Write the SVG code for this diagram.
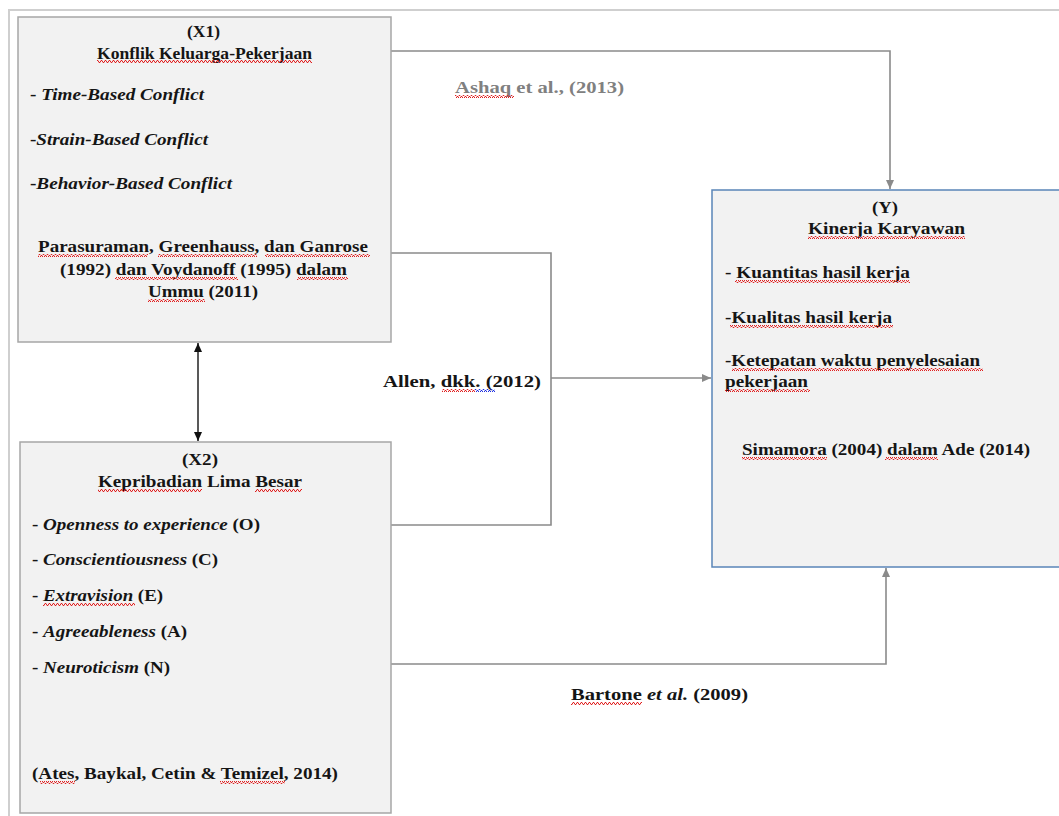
<svg xmlns="http://www.w3.org/2000/svg" width="1059" height="816" viewBox="0 0 1059 816">
<style>
.t{font-family:"Liberation Serif","Times New Roman",serif;font-size:17.5px;font-weight:bold;fill:#151515}
.i{font-style:italic}
.g{fill:#808080}
.box{fill:#f2f2f2;stroke:#a6a6a6;stroke-width:1.5}
.yb{fill:#f2f2f2;stroke:#5a85b8;stroke-width:1.5}
.c{fill:none;stroke:#8a8a8a;stroke-width:1.6}
.w{fill:url(#wv)}
.wb{fill:url(#wvb)}
</style>
<defs>
<pattern id="wv" width="4" height="3" patternUnits="userSpaceOnUse">
<path d="M0,2.5 L1,0.5 L2,0.5 L3,2.5 L4,2.5" fill="none" stroke="#e02020" stroke-width="1"/>
</pattern>
<pattern id="wvb" width="4" height="3" patternUnits="userSpaceOnUse">
<path d="M0,2.5 L1,0.5 L2,0.5 L3,2.5 L4,2.5" fill="none" stroke="#2030e0" stroke-width="1"/>
</pattern>
<marker id="ag" markerWidth="10" markerHeight="10" refX="9" refY="5" orient="auto" markerUnits="userSpaceOnUse">
<path d="M0,1 L9,5 L0,9 Z" fill="#8a8a8a"/>
</marker>
<marker id="ab" markerWidth="10" markerHeight="10" refX="9" refY="5" orient="auto-start-reverse" markerUnits="userSpaceOnUse">
<path d="M0,1 L9,5 L0,9 Z" fill="#111"/>
</marker>
</defs>
<rect width="1059" height="816" fill="#fff"/>
<path d="M9,816 V10 H1059" fill="none" stroke="#cfcfcf" stroke-width="2"/>

<g id="connectors">
<path class="c" d="M391,51 H890 V189" marker-end="url(#ag)"/>
<path class="c" d="M391,253 H551 V525 H391"/>
<path class="c" d="M551,378 H711" marker-end="url(#ag)"/>
<path class="c" d="M391,664 H886 V568" marker-end="url(#ag)"/>
<path d="M198,343 V441" fill="none" stroke="#222" stroke-width="1.5" marker-start="url(#ab)" marker-end="url(#ab)"/>
</g>

<g id="X1">
<rect class="box" x="18" y="17" width="373" height="325"/>
<text class="t" x="187" y="37" textLength="33" lengthAdjust="spacingAndGlyphs">(X1)</text>
<text class="t" x="97" y="59" textLength="215" lengthAdjust="spacingAndGlyphs">Konflik Keluarga-Pekerjaan</text>
<text class="t" x="30" y="100" textLength="174" lengthAdjust="spacingAndGlyphs">- <tspan class="i">Time-Based Conflict</tspan></text>
<text class="t" x="30" y="145" textLength="178" lengthAdjust="spacingAndGlyphs">-<tspan class="i">Strain-Based Conflict</tspan></text>
<text class="t" x="30" y="189" textLength="202" lengthAdjust="spacingAndGlyphs">-<tspan class="i">Behavior-Based Conflict</tspan></text>
<text class="t" x="38" y="252" textLength="330" lengthAdjust="spacingAndGlyphs">Parasuraman, Greenhauss, dan Ganrose</text>
<text class="t" x="60" y="275" textLength="287" lengthAdjust="spacingAndGlyphs">(1992) dan Voydanoff (1995) dalam</text>
<text class="t" x="148" y="297" textLength="110" lengthAdjust="spacingAndGlyphs">Ummu (2011)</text>
<rect class="w" x="97" y="60" width="215" height="3"/>
<rect class="w" x="38" y="254" width="110" height="3"/>
<rect class="w" x="158" y="254" width="99" height="3"/>
<rect class="w" x="265" y="254" width="105" height="3"/>
<rect class="w" x="115" y="277" width="123" height="3"/>
<rect class="w" x="297" y="277" width="51" height="3"/>
<rect class="w" x="148" y="299" width="57" height="3"/>
</g>

<g id="X2">
<rect class="box" x="20" y="442" width="371" height="371"/>
<text class="t" x="182" y="465" textLength="36" lengthAdjust="spacingAndGlyphs">(X2)</text>
<text class="t" x="98" y="487" textLength="204" lengthAdjust="spacingAndGlyphs">Kepribadian Lima Besar</text>
<text class="t" x="32" y="530" textLength="228" lengthAdjust="spacingAndGlyphs">- <tspan class="i">Openness to experience</tspan> (O)</text>
<text class="t" x="32" y="565" textLength="186" lengthAdjust="spacingAndGlyphs">- <tspan class="i">Conscientiousness</tspan> (C)</text>
<text class="t" x="32" y="601" textLength="131" lengthAdjust="spacingAndGlyphs">- <tspan class="i">Extravision</tspan> (E)</text>
<text class="t" x="32" y="637" textLength="155" lengthAdjust="spacingAndGlyphs">- <tspan class="i">Agreeableness</tspan> (A)</text>
<text class="t" x="32" y="673" textLength="138" lengthAdjust="spacingAndGlyphs">- <tspan class="i">Neuroticism</tspan> (N)</text>
<text class="t" x="32" y="779" textLength="306" lengthAdjust="spacingAndGlyphs">(Ates, Baykal, Cetin &amp; Temizel, 2014)</text>
<rect class="w" x="98" y="489" width="104" height="3"/>
<rect class="w" x="255" y="489" width="47" height="3"/>
<rect class="w" x="43" y="603" width="92" height="3"/>
<rect class="w" x="40" y="781" width="35" height="3"/>
<rect class="w" x="220" y="781" width="65" height="3"/>
</g>

<g id="Y">
<rect class="yb" x="712" y="190" width="352" height="377"/>
<text class="t" x="872" y="213" textLength="26" lengthAdjust="spacingAndGlyphs">(Y)</text>
<text class="t" x="808" y="234" textLength="157" lengthAdjust="spacingAndGlyphs">Kinerja Karyawan</text>
<text class="t" x="725" y="278" textLength="185" lengthAdjust="spacingAndGlyphs">- Kuantitas hasil kerja</text>
<text class="t" x="725" y="323" textLength="167" lengthAdjust="spacingAndGlyphs">-Kualitas hasil kerja</text>
<text class="t" x="725" y="366" textLength="255" lengthAdjust="spacingAndGlyphs">-Ketepatan waktu penyelesaian</text>
<text class="t" x="725" y="387" textLength="83" lengthAdjust="spacingAndGlyphs">pekerjaan</text>
<text class="t" x="742" y="455" textLength="288" lengthAdjust="spacingAndGlyphs">Simamora (2004) dalam Ade (2014)</text>
<rect class="w" x="808" y="236" width="157" height="3"/>
<rect class="w" x="735" y="280" width="175" height="3"/>
<rect class="w" x="730" y="325" width="163" height="3"/>
<rect class="w" x="732" y="368" width="251" height="3"/>
<rect class="w" x="725" y="389" width="85" height="3"/>
<rect class="w" x="742" y="457" width="85" height="3"/>
<rect class="w" x="885" y="457" width="53" height="3"/>
</g>

<g id="labels">
<text class="t g" x="455" y="93" textLength="169" lengthAdjust="spacingAndGlyphs">Ashaq et al., (2013)</text>
<rect class="w" x="455" y="95" width="59" height="3"/>
<text class="t" x="383" y="387" textLength="158" lengthAdjust="spacingAndGlyphs">Allen, dkk. (2012)</text>
<rect class="w" x="442" y="389" width="33" height="3"/>
<rect class="wb" x="475" y="389" width="20" height="3"/>
<text class="t" x="571" y="700" textLength="177" lengthAdjust="spacingAndGlyphs">Bartone <tspan class="i">et al.</tspan> (2009)</text>
<rect class="w" x="571" y="702" width="71" height="3"/>
</g>
</svg>
